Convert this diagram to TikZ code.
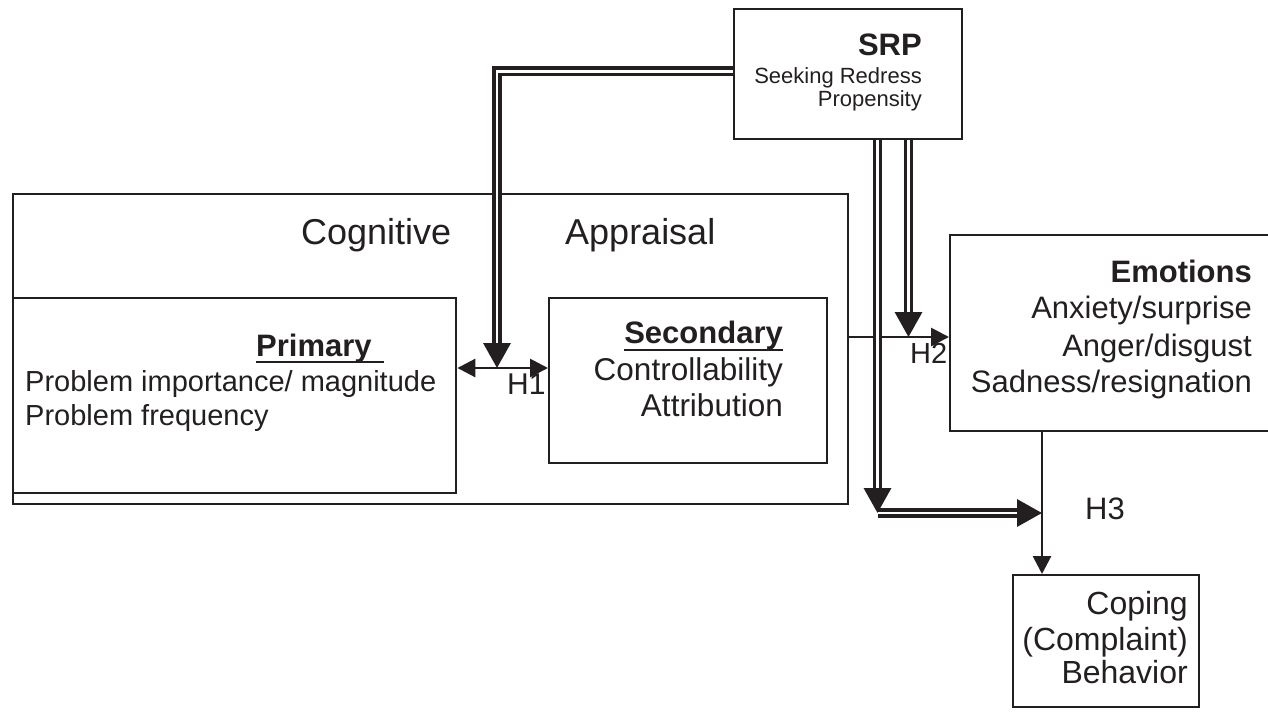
\documentclass[tikz,border=0pt]{standalone}
\usepackage{fontspec}
\setmainfont{Liberation Sans}
\usetikzlibrary{arrows.meta}
\definecolor{ink}{RGB}{35,31,32}
\newcommand{\myfs}[1]{\fontsize{#1}{#1}\selectfont}
\begin{document}
\begin{tikzpicture}[x=1pt,y=-1pt, color=ink,
  box/.style={draw=ink, line width=2.4pt, inner sep=0pt, anchor=north west},
  txt/.style={inner sep=0pt, text=ink},
  dbl/.style={draw=ink, double=white, line width=3.4pt, double distance=2.8pt},
  bigtip/.style={-{Triangle[length=25pt,width=27pt]}},
  thin/.style={draw=ink, line width=2.8pt},
  smalltip/.style={-{Triangle[length=18pt,width=18pt]}},
  bothtip/.style={{Triangle[length=18pt,width=18pt]}-{Triangle[length=18pt,width=18pt]}},
  uline/.style={draw=ink, line width=2.6pt}
]
\useasboundingbox (0,0) rectangle (1268,712);

% boxes
\node[box, minimum width=835pt, minimum height=310pt] (cog) at (12,193) {};
\node[box, minimum width=443pt, minimum height=195pt] (prim) at (12,297) {};
\node[box, minimum width=278pt, minimum height=165pt] (sec) at (548,297) {};
\node[box, minimum width=228pt, minimum height=130pt] (srp) at (733,8) {};
\node[box, minimum width=330pt, minimum height=196pt] (emo) at (949,234) {};
\node[box, minimum width=186pt, minimum height=132pt] (cop) at (1012,574) {};

% texts
\node[txt, anchor=base west, font=\myfs{36}] (tcog) at (301,244) {Cognitive};
\node[txt, anchor=base west, font=\myfs{36}] (tapp) at (565,244) {Appraisal};

\node[txt, anchor=base west, font=\bfseries\myfs{31}] (tprim) at (256,356) {Primary};
\node[txt, anchor=base west, font=\myfs{29}] (tp1) at (25,391) {Problem importance/ magnitude};
\node[txt, anchor=base west, font=\myfs{29}] (tp2) at (25,425) {Problem frequency};

\node[txt, anchor=base east, font=\bfseries\myfs{31}] (tsec) at (783,343) {Secondary};
\node[txt, anchor=base east, font=\myfs{31.5}] (ts1) at (783,380) {Controllability};
\node[txt, anchor=base east, font=\myfs{31.5}] (ts2) at (783,416) {Attribution};

\node[txt, anchor=base east, font=\bfseries\myfs{31}] (tsrp) at (922,55) {SRP};
\node[txt, anchor=base east, font=\myfs{22}] (tsrp1) at (922,83) {Seeking Redress};
\node[txt, anchor=base east, font=\myfs{22}] (tsrp2) at (922,106) {Propensity};

\node[txt, anchor=base east, font=\bfseries\myfs{31}] (temo) at (1252,282) {Emotions};
\node[txt, anchor=base east, font=\myfs{31}] (te1) at (1252,318) {Anxiety/surprise};
\node[txt, anchor=base east, font=\myfs{31}] (te2) at (1252,356) {Anger/disgust};
\node[txt, anchor=base east, font=\myfs{31}] (te3) at (1252,392) {Sadness/resignation};

\node[txt, anchor=base east, font=\myfs{32}] (tc1) at (1188,614) {Coping};
\node[txt, anchor=base east, font=\myfs{32}] (tc2) at (1188,650) {(Complaint)};
\node[txt, anchor=base east, font=\myfs{32}] (tc3) at (1188,683) {Behavior};

\node[txt, anchor=base west, font=\myfs{30}] (lh1) at (507,394) {H1};
\node[txt, anchor=base west, font=\myfs{29}] (lh2) at (910,363) {H2};
\node[txt, anchor=base west, font=\myfs{31}] (lh3) at (1085,519) {H3};

% underlines
\draw[uline] ([yshift=-6pt]tprim.base west) -- ([yshift=-6pt,xshift=12pt]tprim.base east);
\draw[uline] ([yshift=-7pt]tsec.base west) -- ([yshift=-7pt]tsec.base east);

% connection points
\coordinate (h1) at (497,368);
\coordinate (h2) at (908.5,337);
\coordinate (h3) at (877.5,513);
\coordinate (j) at (1042,513);

% connectors
\draw[thin, bothtip] (h1 -| prim.east) -- (h1 -| sec.west);
\draw[dbl, bigtip] ([yshift=3pt]srp.west) -| (h1);
\draw[thin, smalltip] (h2 -| cog.east) -- (h2 -| emo.west);
\draw[dbl, bigtip] (srp.south -| h2) -- (h2);
\draw[dbl, bigtip] (srp.south -| h3) -- (h3);
\draw[dbl, bigtip] (h3) -- (j);
\draw[thin, smalltip] (emo.south -| j) -- (cop.north -| j);
\end{tikzpicture}
\end{document}
